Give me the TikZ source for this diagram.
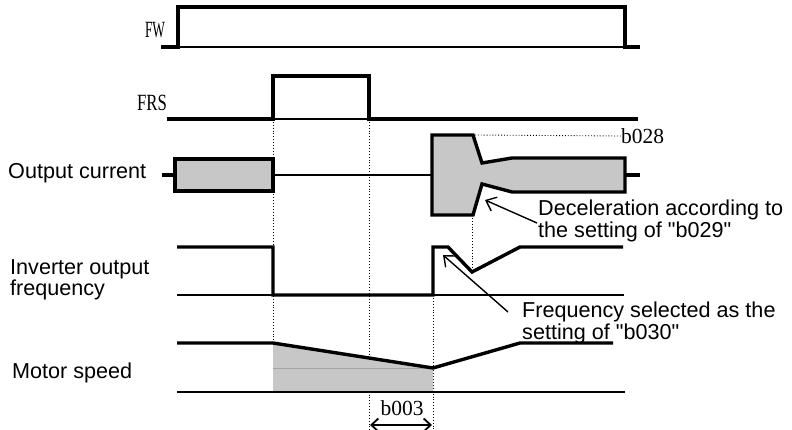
\documentclass[tikz,border=0pt]{standalone}
\usepackage{fontspec}
\setmainfont{Liberation Serif}
\newfontfamily\labelfont{Liberation Sans}
\usetikzlibrary{arrows.meta,positioning}

\begin{document}
\begin{tikzpicture}[x=1pt,y=-1pt,
  every node/.style={inner sep=0pt},
  lbl/.style={font=\labelfont\fontsize{21.6}{21.5}\selectfont,align=left,anchor=north west},
  tag/.style={font=\fontsize{21.5}{21}\selectfont},
  sig/.style={line width=3.4pt,line join=miter},
  base/.style={line width=1.5pt},
  guide/.style={dotted,line width=0.9pt},
  area/.style={fill=black!22},
  ptr/.style={line width=1.4pt,-{Straight Barb[length=9pt,width=15pt]}},
  dim/.style={line width=1.8pt,{Straight Barb[length=7pt,width=13pt]}-{Straight Barb[length=7pt,width=13pt]}}]

  \useasboundingbox (0,0) rectangle (792,430);

  % --- FW command
  \node[tag,xscale=0.62,yscale=1.08,transform shape] (fw) at (155,30) {FW};
  \draw[base] (178,47) -- (625,47);
  \draw[sig] (161,47) -- (178,47) -- (178,7) -- (625,7) -- (625,47) -- (640,47);

  % --- FRS command
  \node[tag,xscale=0.78,yscale=1.08,transform shape] (frs) at (152,103) {FRS};
  \draw[base] (273,119) -- (369,119);
  \draw[sig] (167,119) -- (273,119) -- (273,76) -- (369,76) -- (369,119) -- (638,119);

  % --- dotted timing guides
  \draw[guide] (273,119) -- (273,392);
  \draw[guide] (369,119) -- (369,430);
  \draw[guide] (433,295) -- (433,430);
  \draw[guide] (472,215) -- (472,268);

  % --- Output current
  \node[lbl] (cur) at (8,163) {Output current};
  \draw[sig] (162,175) -- (175,175);
  \draw[sig,area] (175,159) rectangle (273,191);
  \draw[line width=2.6pt] (273,175) -- (432,175);
  \draw[sig,area] (432,135) -- (473,135) -- (482,163) -- (512,158) -- (625,158)
    -- (625,192) -- (512,192) -- (482,184) -- (473,215) -- (432,215) -- cycle;
  \draw[sig] (625,175) -- (640,175);
  % peak level
  \node[tag,anchor=west] (b028) at (621,136) {b028};
  \draw[guide] (475,135) -- (b028.west);

  % --- Inverter output frequency
  \node[lbl] (frq) at (10,259) {Inverter output\\frequency};
  \draw[base] (177,295) -- (624,295);
  \draw[sig] (177,247) -- (273,247) -- (273,295) -- (433,295) -- (433,247)
    -- (448,247) -- (472,272) -- (520,247) -- (623,247);

  % --- Motor speed
  \node[lbl] (spd) at (12,363) {Motor speed};
  \fill[area] (273,343) -- (433,368) -- (433,392) -- (273,392) -- cycle;
  \draw[black!35,line width=1pt] (273,368) -- (433,368);
  \draw[line width=2pt] (177,392) -- (625,392);
  \draw[sig] (177,343) -- (273,343) -- (433,368) -- (520,343) -- (613,343);

  % --- notes with pointers
  \node[lbl] (dec) at (538,200) {Deceleration according to\\the setting of "b029"};
  \coordinate (dectail) at (537,223);
  \coordinate (dectip) at (485,200);
  \draw[ptr] (dectail) -- (dectip);

  \node[lbl] (sel) at (522,302) {Frequency selected as the\\setting of "b030"};
  \coordinate (seltail) at (508,312);
  \coordinate (seltip) at (443,255);
  \draw[ptr] (seltail) -- (seltip);

  % --- b003 wait time
  \node[tag] (b003) at (402,408) {b003};
  \coordinate (wl) at (370,425);
  \coordinate (wr) at (432,425);
  \draw[dim] (wl) -- (wr);
\end{tikzpicture}
\end{document}
